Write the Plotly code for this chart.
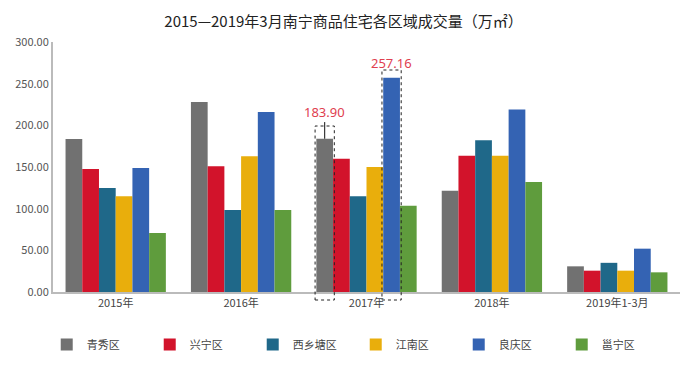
import plotly.graph_objects as go

categories = ["2015年", "2016年", "2017年", "2018年", "2019年1-3月"]
districts = ["青秀区", "兴宁区", "西乡塘区", "江南区", "良庆区", "邕宁区"]
qingxiu = [183.5, 228.0, 183.90, 121.5, 30.8]
xingning = [147.5, 151.0, 160.0, 163.5, 25.6]
xixiangtang = [124.7, 98.3, 115.0, 182.0, 35.0]
jiangnan = [115.0, 163.0, 150.0, 163.5, 25.6]
liangqing = [148.7, 216.0, 257.16, 219.0, 52.0]
yongning = [70.7, 98.3, 103.5, 132.0, 23.6]
series = [qingxiu, xingning, xixiangtang, jiangnan, liangqing, yongning]
colors = ["#717171", "#d2132b", "#1f6889", "#e9ae0c", "#3463b3", "#5f9c3d"]
tick_vals = [0, 50, 100, 150, 200, 250, 300]

fig = go.Figure()
for name, vals, col in zip(districts, series, colors):
    fig.add_trace(go.Bar(name=name, x=categories, y=vals, marker=dict(color=col, line=dict(width=0))))

n = len(districts)
group_w = 0.8
bw = group_w / n


def bar_center(cat_idx, ser_idx):
    return cat_idx - group_w / 2 + bw * (ser_idx + 0.5)


ncat = len(categories)


def to_paper(xd):
    return (xd + 0.5) / ncat


hl = [(2, 0, 0.664, 27), (2, 4, 0.888, 15)]
shapes = []
annotations = []
for ci, si, top, ys in hl:
    xc = bar_center(ci, si)
    val = series[si][ci]
    shapes.append(dict(type="rect", xref="paper", yref="paper",
                       x0=to_paper(xc - bw / 2) - 0.002, x1=to_paper(xc + bw / 2) + 0.002,
                       y0=-0.032, y1=top,
                       line=dict(color="#222", width=1, dash="dot")))
    annotations.append(dict(x=xc, y=val, xref="x", yref="y", text=f"{val:.2f}",
                            showarrow=False, yshift=ys, font=dict(color="#e0404f", size=13,
                                                                   family="Noto Sans")))
# small vertical line on the 183.90 bar
xc0 = bar_center(2, 0)
shapes.append(dict(type="line", xref="x", yref="y", x0=xc0, x1=xc0, y0=series[0][2], y1=series[0][2] + 20,
                   line=dict(color="#111", width=1)))

fig.update_layout(
    width=687, height=368,
    margin=dict(l=53, r=7, t=42, b=76),
    paper_bgcolor="white", plot_bgcolor="white",
    barmode="group", bargap=0.2, bargroupgap=0,
    title=dict(text="2015—2019年3月南宁商品住宅各区域成交量（万㎡）", x=0.5, xanchor="center",
               y=0.94, yanchor="middle",
               font=dict(size=15, color="#222", family="Noto Sans CJK SC")),
    font=dict(family="Noto Sans CJK SC", color="#555", size=11),
    xaxis=dict(showline=True, linecolor="#bbb", linewidth=2, ticks="", showgrid=False,
               tickfont=dict(size=11, color="#444")),
    yaxis=dict(range=[0, 300], tickvals=tick_vals, tickformat=".2f", showline=True,
               linecolor="#bbb", linewidth=2, showgrid=False, zeroline=False, ticks="",
               tickfont=dict(size=11, color="#555")),
    legend=dict(orientation="h", x=-0.01, xanchor="left", y=-0.21, yanchor="middle",
                entrywidth=58, entrywidthmode="pixels", font=dict(size=11, color="#444"),
                itemwidth=30, tracegroupgap=0),
    shapes=shapes,
    annotations=annotations,
)

fig.write_html("out.html", config={"displayModeBar": False},
               post_script="document.body.style.margin='0';")
